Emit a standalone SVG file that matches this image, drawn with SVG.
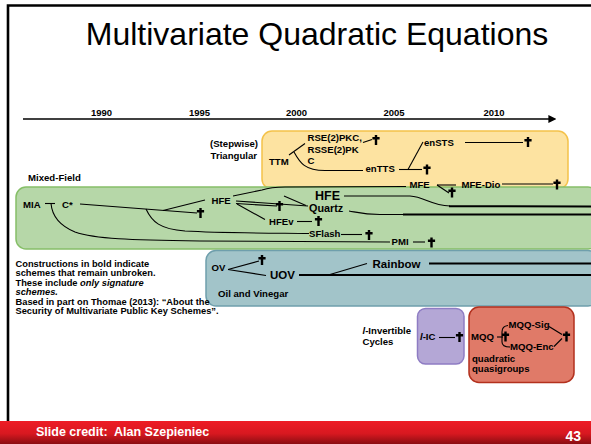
<svg xmlns="http://www.w3.org/2000/svg" xmlns:xlink="http://www.w3.org/1999/xlink" width="591" height="444" viewBox="0 0 591 444">
  <style>
    text { font-family: "Liberation Sans", Arial, sans-serif; fill: #000; }
    .lb { font-size: 9.6px; font-weight: bold; }
    .yr { font-size: 9.5px; font-weight: bold; text-anchor: middle; }
    .big { font-size: 11.5px; font-weight: bold; }
    .note { font-size: 9.3px; font-weight: bold; }
    .ln { fill: none; stroke: #000; stroke-width: 1.1; }
    .th { fill: none; stroke: #000; stroke-width: 2; }
    .box { stroke-width: 1.5; }
  </style>
  <defs>
    <!-- dagger marking a broken scheme -->
    <symbol id="dag" viewBox="-4 -5 8 10" width="8" height="10" overflow="visible">
      <path d="M-1.2,-5 h2.4 v10 h-2.4z M-3.6,-2.9 h7.2 v2.4 h-7.2z" fill="#000"/>
    </symbol>
    <marker id="arr" viewBox="0 0 10 10" refX="2" refY="5" markerWidth="5" markerHeight="5" orient="auto">
      <path d="M0,0 L10,5 L0,10 z" fill="#000"/>
    </marker>
    <linearGradient id="foot" x1="0" y1="0" x2="0" y2="1">
      <stop offset="0" stop-color="#ee1c25"/>
      <stop offset="0.55" stop-color="#d81820"/>
      <stop offset="1" stop-color="#8a0d12"/>
    </linearGradient>
  </defs>

  <rect width="591" height="444" fill="#fff"/>
  <!-- slide frame -->
  <path d="M591,5.5 H8 V422" fill="none" stroke="#000" stroke-width="2.6"/>

  <text x="317" y="44.5" font-size="32" text-anchor="middle">Multivariate Quadratic Equations</text>

  <!-- timeline -->
  <g id="timeline">
    <line x1="23" y1="119" x2="550" y2="119" stroke="#000" stroke-width="1.6" marker-end="url(#arr)"/>
    <text class="yr" x="101.5" y="116">1990</text>
    <text class="yr" x="199.5" y="116">1995</text>
    <text class="yr" x="296.5" y="116">2000</text>
    <text class="yr" x="394" y="116">2005</text>
    <text class="yr" x="494" y="116">2010</text>
  </g>

  <!-- family regions -->
  <g id="triangular">
    <rect class="box" x="262" y="131" width="306" height="58" rx="10" fill="#fde3a1" stroke="#f4c24a"/>
    <text class="lb" x="258" y="147" text-anchor="end">(Stepwise)</text>
    <text class="lb" x="257" y="158.5" text-anchor="end">Triangular</text>
  </g>
  <g id="mixed-field">
    <rect class="box" x="16" y="187" width="582" height="62" rx="10" fill="#b6d7a8" stroke="#86bf68"/>
    <text class="lb" x="28" y="181">Mixed-Field</text>
  </g>
  <g id="oil-vinegar">
    <rect class="box" x="206" y="250.5" width="392" height="55.5" rx="10" fill="#a2c4c9" stroke="#6f9fac"/>
    <text class="lb" x="218" y="297">Oil and Vinegar</text>
  </g>
  <g id="ic">
    <rect class="box" x="417.5" y="308.5" width="46.5" height="55.5" rx="8" fill="#b4a7d6" stroke="#8e7cc3"/>
    <text class="lb" x="362.5" y="333.5"><tspan font-style="italic">l</tspan>-Invertible</text>
    <text class="lb" x="362.5" y="345">Cycles</text>
  </g>
  <g id="mqq">
    <rect class="box" x="469" y="307" width="105" height="75.5" rx="10" fill="#e07a68" stroke="#b3311e"/>
    <text class="lb" x="472" y="362">quadratic</text>
    <text class="lb" x="472" y="372">quasigroups</text>
  </g>

  <!-- connectors -->
  <g id="connectors">
    <path class="ln" d="M289,155 L305,143.5"/>
    <path class="ln" d="M294,152 C300,163 305,170.5 325,170.5 L363,170.5"/>
    <path class="ln" d="M363,142.5 L372,139.5"/>
    <path class="ln" d="M399,169.5 H422"/>
    <path class="ln" d="M408,169.5 L423,142"/>
    <path class="ln" d="M465,142.5 H523"/>
    <path class="ln" d="M233,196 L262,190 C268,188 275,187 285,187 L406,186.5"/>
    <path class="ln" d="M437,185 H456"/>
    <path class="ln" d="M437,185 L449,193"/>
    <path class="ln" d="M502,184 H553"/>
    <path class="ln" d="M45,203.5 H55"/>
    <path class="ln" d="M51,203.5 C52,215 58,225 75,232 C95,239 130,240 200,241 L390,242"/>
    <path class="ln" d="M80,204 L197,213"/>
    <path class="ln" d="M163,210.5 L205,200"/>
    <path class="ln" d="M146,209 C152,222 160,229 185,231 C220,233 260,233 309,233.5"/>
    <path class="ln" d="M341,234.5 H362"/>
    <path class="ln" d="M413,242 H425"/>
    <path class="ln" d="M236,201 L308,206"/>
    <path class="ln" d="M236,203.5 L277,206"/>
    <path class="ln" d="M284,196 L306,205.5"/>
    <path class="ln" d="M237,204 L265,219.5"/>
    <path class="ln" d="M297,221.5 H312"/>
    <path class="ln" d="M344,196 H410 C425,197 430,205 450,206"/>
    <path class="th" d="M449,206.2 L598,206.5"/>
    <path class="ln" d="M349,211 C360,213 365,214.5 380,214.5 L404,214.5"/>
    <path class="th" d="M403,214.5 H598"/>
    <path class="ln" d="M228,269.5 L259,261"/>
    <path class="ln" d="M228,269.5 L266,275.5"/>
    <path class="th" d="M299,275 H598"/>
    <path class="ln" d="M330,274.5 L367,263.5"/>
    <path class="th" d="M429,263.5 H598"/>
    <path class="ln" d="M439,337.5 H455"/>
    <path class="ln" d="M497,337 H503"/>
    <path class="ln" d="M508,325.5 C503,326 502,329 502,332 V342 C502,345 504,347 510,347"/>
    <path class="ln" d="M549,326.5 L562,334.5"/>
    <path class="ln" d="M554,346.5 L562,338.5"/>
  </g>

  <!-- broken-scheme daggers -->
  <g id="daggers">
    <use href="#dag" x="372" y="135"/>
    <use href="#dag" x="423" y="164.5"/>
    <use href="#dag" x="524" y="137"/>
    <use href="#dag" x="448" y="187.5"/>
    <use href="#dag" x="553" y="179.5"/>
    <use href="#dag" x="196.5" y="208"/>
    <use href="#dag" x="275.5" y="201"/>
    <use href="#dag" x="314.5" y="216"/>
    <use href="#dag" x="365" y="230"/>
    <use href="#dag" x="427.5" y="237.5"/>
    <use href="#dag" x="258" y="255"/>
    <use href="#dag" x="455.5" y="332"/>
    <use href="#dag" x="501.5" y="331.5"/>
    <use href="#dag" x="562.5" y="331.5"/>
  </g>

  <!-- scheme nodes -->
  <g id="ttm"><text class="lb" x="269" y="164.5">TTM</text></g>
  <g id="rse"><text class="lb" x="307.5" y="141">RSE(2)PKC,</text><text class="lb" x="307.5" y="152.5">RSSE(2)PK</text><text class="lb" x="307.5" y="164">C</text></g>
  <g id="enTTS"><text class="lb" x="365.5" y="172">enTTS</text></g>
  <g id="enSTS"><text class="lb" x="424" y="145.5">enSTS</text></g>
  <g id="mfe"><text class="lb" x="409.5" y="187.5">MFE</text></g>
  <g id="mfe-dio"><text class="lb" x="461.5" y="187.5">MFE-Dio</text></g>
  <g id="mia"><text class="lb" x="23" y="207.5">MIA</text></g>
  <g id="cstar"><text class="lb" x="62" y="207.5">C*</text></g>
  <g id="hfe"><text class="lb" x="211.5" y="203.5">HFE</text></g>
  <g id="hfe-big"><text x="315" y="199.5" font-size="12.5" font-weight="bold">HFE</text></g>
  <g id="quartz"><text x="309" y="212.2" font-size="10.8" font-weight="bold">Quartz</text></g>
  <g id="hfev"><text class="lb" x="269" y="224.5">HFEv</text></g>
  <g id="sflash"><text class="lb" x="309" y="236.5">SFlash</text></g>
  <g id="pmi"><text class="lb" x="391.5" y="244.5">PMI</text></g>
  <g id="ov"><text class="lb" x="211.5" y="271">OV</text></g>
  <g id="uov"><text class="big" x="270" y="279">UOV</text></g>
  <g id="rainbow"><text class="big" x="372.5" y="267.5">Rainbow</text></g>
  <g id="l-ic"><text class="lb" x="420" y="339.5"><tspan font-style="italic">l</tspan>-IC</text></g>
  <g id="mqq-node"><text class="lb" x="471" y="339.5">MQQ</text></g>
  <g id="mqq-sig"><text class="lb" x="508.5" y="328">MQQ-Sig</text></g>
  <g id="mqq-enc"><text class="lb" x="510" y="349.5">MQQ-Enc</text></g>

  <!-- notes -->
  <g id="notes">
    <text class="note" x="15.5" y="267">Constructions in bold indicate</text>
    <text class="note" x="15.5" y="276.4">schemes that remain unbroken.</text>
    <text class="note" x="15.5" y="285.8">These include <tspan font-style="italic">only signature</tspan></text>
    <text class="note" x="15.5" y="295.2" font-style="italic">schemes.</text>
    <text class="note" x="15.5" y="304.7">Based in part on Thomae (2013): “About the</text>
    <text class="note" x="15.5" y="314.2">Security of Multivariate Public Key Schemes”.</text>
  </g>

  <!-- footer -->
  <rect x="0" y="421" width="591" height="23" fill="url(#foot)"/>
  <text x="36" y="436" font-size="12.5" font-weight="bold" style="fill:#fff" xml:space="preserve">Slide credit:  Alan Szepieniec</text>
  <text x="581" y="441" font-size="14" font-weight="bold" text-anchor="end" style="fill:#fff">43</text>
</svg>
